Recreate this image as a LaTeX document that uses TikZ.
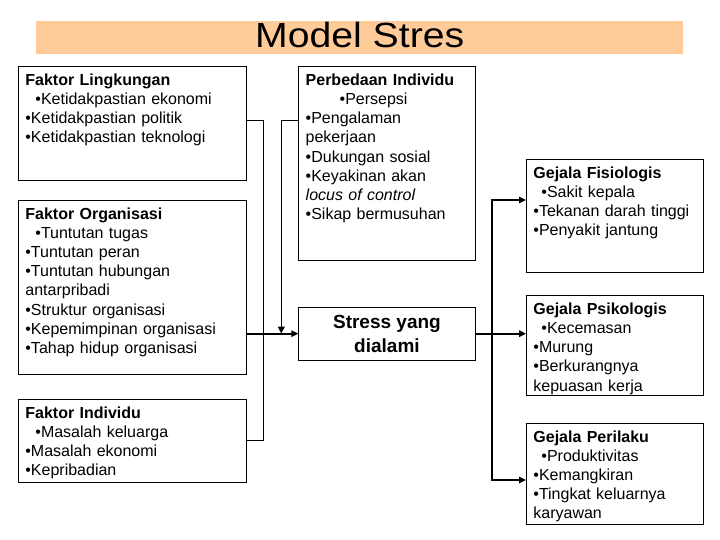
\documentclass[tikz,border=0pt]{standalone}
\usepackage{fontspec}
\setmainfont{Liberation Sans}
\newfontfamily\titlefont[FakeStretch=1.12]{Liberation Sans}
\usepackage{xcolor}
\usepackage{tikz}
\usetikzlibrary{arrows.meta,positioning}
\definecolor{titlefill}{HTML}{FFCC99}

\begin{document}
\begin{tikzpicture}[x=1pt, y=-1pt,
  box/.style={draw, line width=0.8pt, anchor=north west, align=left, inner xsep=7pt, inner ysep=6pt, text height=13pt, font=\fontsize{16}{19.2}\selectfont},
  wide/.style={box, text width=214pt},
  narrow/.style={box, text width=162.5pt},
  stressbox/.style={draw, line width=0.8pt, minimum width=176.5pt, minimum height=53pt, inner sep=0pt, align=center, font=\bfseries\fontsize{19}{24}\selectfont},
  titlebar/.style={fill=titlefill, anchor=north west, minimum width=647pt, minimum height=33.6pt, inner ysep=3.8pt, text height=22.8pt, text depth=3.2pt, font=\titlefont\fontsize{35}{40}\selectfont},
  link/.style={line width=0.8pt},
  flow/.style={line width=1.6pt, -{Triangle[length=7pt,width=6.5pt]}},
]
  \useasboundingbox (0,0) rectangle (720,540);

  \node[titlebar] (title) at (36,20.7) {Model Stres};

  % left column
  \node[wide, text depth=89pt] (ling) at (18,66) {\textbf{Faktor Lingkungan}\\\hspace*{10pt}•Ketidakpastian ekonomi\\•Ketidakpastian politik\\•Ketidakpastian teknologi};
  \node[wide, text depth=149pt, below=19pt of ling] (org) {\textbf{Faktor Organisasi}\\\hspace*{10pt}•Tuntutan tugas\\•Tuntutan peran\\•Tuntutan hubungan\\antarpribadi\\•Struktur organisasi\\•Kepemimpinan organisasi\\•Tahap hidup organisasi};
  \node[wide, text depth=58pt, below=24pt of org] (ind) {\textbf{Faktor Individu}\\\hspace*{10pt}•Masalah keluarga\\•Masalah ekonomi\\•Kepribadian};

  % middle column
  \node[narrow, text depth=169pt] (perb) at (298.3,66) {\textbf{Perbedaan Individu}\\\hspace*{34pt}•Persepsi\\•Pengalaman\\pekerjaan\\•Dukungan sosial\\•Keyakinan akan\\\textit{locus of control}\\•Sikap bermusuhan};
  \node[stressbox, below=46pt of perb] (stress) {Stress yang\\dialami};

  % right column
  \node[narrow, text depth=88pt] (fis) at (526,159) {\textbf{Gejala Fisiologis}\\\hspace*{8pt}•Sakit kepala\\•Tekanan darah tinggi\\•Penyakit jantung};
  \node[narrow, text depth=75pt, below=22pt of fis] (psi) {\textbf{Gejala Psikologis}\\\hspace*{8pt}•Kecemasan\\•Murung\\•Berkurangnya\\kepuasan kerja};
  \node[narrow, text depth=76pt, below=27pt of psi] (pri) {\textbf{Gejala Perilaku}\\\hspace*{8pt}•Produktivitas\\•Kemangkiran\\•Tingkat keluarnya\\karyawan};

  % connectors
  \draw[link] ([yshift=3pt]ling.east) -- ++(17,0) |- (ind.east);
  \draw[flow] (org.east |- stress.west) -- (stress.west);
  \draw[flow] ([yshift=43pt]perb.west) -| ([xshift=-17pt]stress.west);
  \draw[flow] (stress.east) -- (psi.west |- stress.east);
  \coordinate (forktop) at (492,200);
  \coordinate (forkbot) at (492,480);
  \draw[line width=1.6pt, {Triangle[length=7pt,width=6.5pt]}-{Triangle[length=7pt,width=6.5pt]}] (fis.west |- forktop) -- (forktop) -- (forkbot) -- (pri.west |- forkbot);
\end{tikzpicture}
\end{document}
